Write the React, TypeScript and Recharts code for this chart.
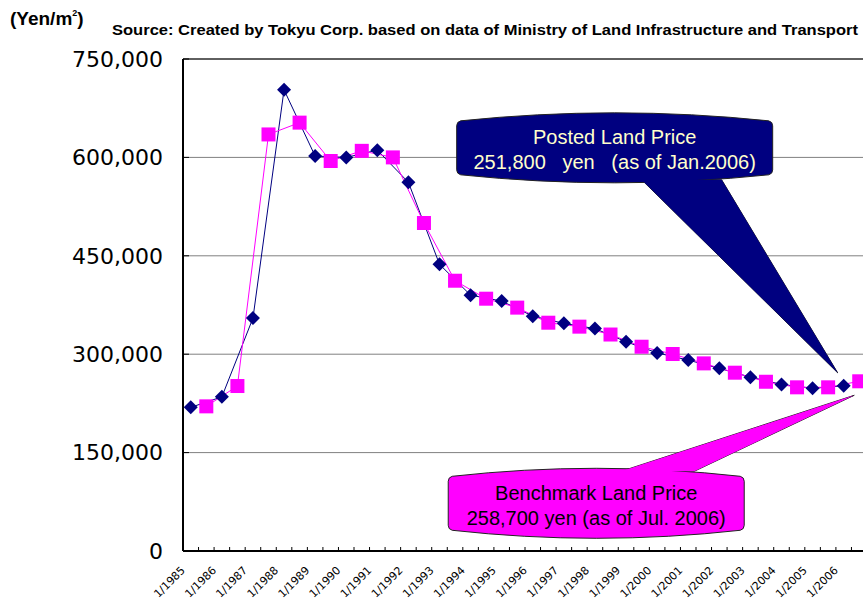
import React from 'react';
import { ComposedChart, Line, XAxis, YAxis, CartesianGrid, ReferenceDot, ReferenceLine } from 'recharts';

// survey years, posted price is as of January, benchmark price as of July
const years = [1985, 1986, 1987, 1988, 1989, 1990, 1991, 1992, 1993, 1994, 1995, 1996, 1997, 1998, 1999, 2000, 2001, 2002, 2003, 2004, 2005, 2006];
const postedPrices = [219000, 235000, 355000, 703000, 602000, 600000, 611000, 562000, 437000, 390000, 381000, 358000, 347000, 339000, 319000, 302000, 291000, 278500, 265000, 254000, 248000, 251800];
const benchmarkPrices = [220500, 251500, 635000, 653000, 594500, 610000, 600000, 500000, 412000, 384600, 371000, 348000, 342000, 330000, 311400, 300300, 286000, 271800, 258000, 249500, 249500, 258700];
const tickLabels = years.map(y => `1/${y}`);
const yTicks = [0, 150000, 300000, 450000, 600000, 750000];

const NAVY = '#000080';
const PINK = '#FF00FF';

// half-year slots: even index = January, odd index = July
const chartData = years.flatMap((y, i) => [
  { t: i * 2, posted: postedPrices[i] },
  { t: i * 2 + 1, benchmark: benchmarkPrices[i] },
]);

const xTicks: number[] = [];
for (let i = 0; i <= chartData.length; i++) xTicks.push(i - 0.5);
for (let i = 0; i < chartData.length; i += 2) xTicks.push(i);
xTicks.sort((a, b) => a - b);

const XTick = (props: any) => {
  const { x, y, payload } = props;
  const v = payload.value;
  if (!Number.isInteger(v)) {
    return <line x1={x} x2={x} y1={y} y2={y - 4} stroke="#000" strokeWidth={1} />;
  }
  return (
    <text
      transform={`translate(${x - 5},${y + 20}) rotate(-45)`}
      textAnchor="end"
      fontFamily="DejaVu Sans"
      fontSize={11}
      fill="#000"
    >
      {tickLabels[v / 2]}
    </text>
  );
};

const Diamond = (props: any) => {
  const { cx, cy, index } = props;
  if (cx == null || cy == null || props.value == null) return <g key={`d-${index}`} />;
  const s = 7;
  return (
    <polygon
      key={`d-${index}`}
      points={`${cx},${cy - s} ${cx + s},${cy} ${cx},${cy + s} ${cx - s},${cy}`}
      fill={NAVY}
    />
  );
};

const Square = (props: any) => {
  const { cx, cy, index } = props;
  if (cx == null || cy == null || props.value == null) return <g key={`s-${index}`} />;
  return <rect key={`s-${index}`} x={cx - 7} y={cy - 7} width={14} height={14} fill={PINK} />;
};

// balloon shape: box with bulged top/bottom and rounded corners
const balloonPath = (l: number, r: number, t: number, b: number) => {
  const m = (l + r) / 2;
  const c = 4;
  return `M${l},${t + 9 + c} Q${l},${t + 9} ${l + c},${t + 8} Q${m},${t - 8} ${r - c},${t + 8} Q${r},${t + 9} ${r},${t + 9 + c} ` +
    `L${r},${b - 9 - c} Q${r},${b - 9} ${r - c},${b - 8} Q${m},${b + 8} ${l + c},${b - 8} Q${l},${b - 9} ${l},${b - 9 - c} Z`;
};

const Balloon = ({ cx, cy, box, tail, fill, textFill, lines }: any) => {
  const l = cx + box[0], r = cx + box[1], t = cy + box[2], b = cy + box[3];
  const tailPts = `${cx + tail[0]},${cy + tail[2]} ${cx + tail[1]},${cy + tail[2]} ${cx + tail[3]},${cy + tail[4]}`;
  const mid = (l + r) / 2;
  return (
    <g>
      <polygon points={tailPts} fill={fill} stroke="#222" strokeWidth={1} />
      <path d={balloonPath(l, r, t, b)} fill={fill} stroke="#222" strokeWidth={1} />
      <polygon points={tailPts} fill={fill} />
      {lines.map((s: string, i: number) => (
        <text
          key={i}
          x={mid}
          y={t + 26 + i * 25}
          dominantBaseline="middle"
          textAnchor="middle"
          fontFamily="Liberation Sans, Arial, sans-serif"
          fontSize={20}
          fill={textFill}
          style={{ whiteSpace: 'pre' }}
        >
          {s}
        </text>
      ))}
    </g>
  );
};

export default function App() {
  return (
    <div style={{ position: 'relative', width: 863, height: 600 }}>
      <style>{'body{margin:0}'}</style>
      <ComposedChart
        width={863}
        height={600}
        data={chartData}
        margin={{ top: 59, right: -4, bottom: 0, left: 0 }}
      >
        <CartesianGrid horizontal vertical={false} stroke="#808080" strokeWidth={1} />
        <ReferenceLine y={750000} stroke="#000" strokeWidth={1} />
        <XAxis
          dataKey="t"
          type="number"
          domain={[-0.5, chartData.length - 0.5]}
          ticks={xTicks}
          interval={0}
          tick={<XTick />}
          tickLine={false}
          tickSize={0}
          tickMargin={0}
          height={49}
          axisLine={{ stroke: '#000', strokeWidth: 2 }}
        />
        <YAxis
          domain={[0, 750000]}
          ticks={yTicks}
          interval={0}
          width={183}
          tickSize={-6}
          tickMargin={26}
          tickLine={{ stroke: '#000' }}
          axisLine={{ stroke: '#000', strokeWidth: 2 }}
          tickFormatter={(v: number) => v.toLocaleString('en-US')}
          tick={{ fontFamily: 'DejaVu Sans', fontSize: 22, fill: '#000' }}
        />
        <Line
          type="linear"
          dataKey="posted"
          stroke={NAVY}
          strokeWidth={1}
          connectNulls
          dot={Diamond}
          activeDot={false}
          isAnimationActive={false}
        />
        <Line
          type="linear"
          dataKey="benchmark"
          stroke={PINK}
          strokeWidth={1}
          connectNulls
          dot={Square}
          activeDot={false}
          isAnimationActive={false}
        />
        <ReferenceDot
          x={42}
          y={postedPrices[postedPrices.length - 1]}
          ifOverflow="visible"
          shape={(p: any) => (
            <Balloon
              cx={p.cx}
              cy={p.cy}
              box={[-387, -71, -273, -203]}
              tail={[-202, -122, -206, -6, -13]}
              fill={NAVY}
              textFill="#FFFFCC"
              lines={['Posted Land Price', '251,800   yen   (as of Jan.2006)']}
            />
          )}
        />
        <ReferenceDot
          x={43}
          y={benchmarkPrices[benchmarkPrices.length - 1]}
          ifOverflow="visible"
          shape={(p: any) => (
            <Balloon
              cx={p.cx}
              cy={p.cy}
              box={[-411, -115, 87, 157]}
              tail={[-238, -165, 90, -5, 14]}
              fill={PINK}
              textFill="#000"
              lines={['Benchmark Land Price', '258,700 yen (as of Jul. 2006)']}
            />
          )}
        />
      </ComposedChart>
      <svg
        width={863}
        height={60}
        style={{ position: 'absolute', left: 0, top: 0, pointerEvents: 'none' }}
      >
        <text x={10} y={25} fontFamily="Liberation Sans, Arial, sans-serif" fontWeight="bold" fontSize={19} fill="#000">
          (Yen/m<tspan fontSize={9} dy={-9}>2</tspan><tspan dy={9}>)</tspan>
        </text>
        <text
          x={112}
          y={35}
          fontFamily="Liberation Sans, Arial, sans-serif"
          fontWeight="bold"
          fontSize={14}
          fill="#000"
          textLength={746}
          lengthAdjust="spacingAndGlyphs"
        >
          Source: Created by Tokyu Corp. based on data of Ministry of Land Infrastructure and Transport
        </text>
      </svg>
    </div>
  );
}
